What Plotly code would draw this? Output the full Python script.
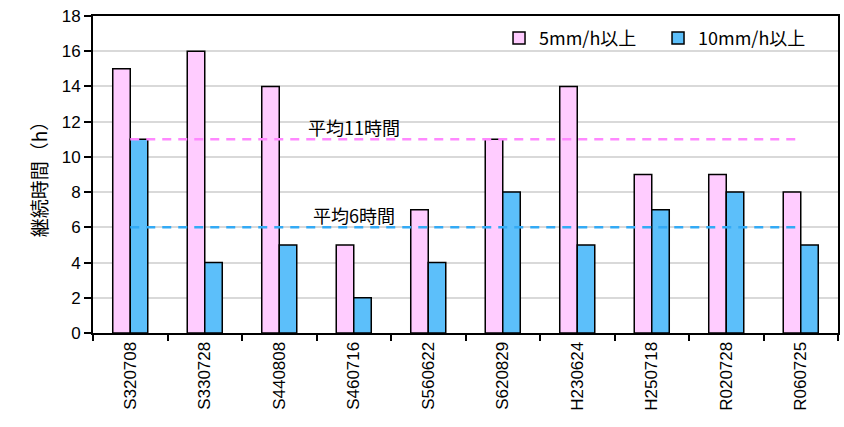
import plotly.graph_objects as go

categories = ["S320708", "S330728", "S440808", "S460716", "S560622",
              "S620829", "H230624", "H250718", "R020728", "R060725"]
hours_5mm = [15, 16, 14, 5, 7, 11, 14, 9, 9, 8]
hours_10mm = [11, 4, 5, 2, 4, 8, 5, 7, 8, 5]
avg_5mm = 11
avg_10mm = 6
y_ticks = [0, 2, 4, 6, 8, 10, 12, 14, 16, 18]

CJK = "Noto Sans CJK JP"
LAT = "Liberation Sans, Arial, sans-serif"

fig = go.Figure()
fig.add_trace(go.Bar(x=categories, y=hours_5mm, name="5mm/h以上",
                     marker=dict(color="#FFCCFF", line=dict(color="black", width=1.5))))
fig.add_trace(go.Bar(x=categories, y=hours_10mm, name="10mm/h以上",
                     marker=dict(color="#5CBFFA", line=dict(color="black", width=1.5))))

fig.add_trace(go.Scatter(x=[categories[0], categories[-1]], y=[avg_5mm, avg_5mm],
                         mode="lines", showlegend=False, hoverinfo="skip",
                         line=dict(color="#FF88FF", width=2.5, dash="9px,7px")))
fig.add_trace(go.Scatter(x=[categories[0], categories[-1]], y=[avg_10mm, avg_10mm],
                         mode="lines", showlegend=False, hoverinfo="skip",
                         line=dict(color="#33AAF5", width=2.5, dash="9px,7px")))

fig.add_annotation(x=3.0, y=avg_5mm, text=f"平均{avg_5mm}時間", showarrow=False,
                   yshift=12, font=dict(family=CJK, size=18, color="black"))
fig.add_annotation(x=3.0, y=avg_10mm, text=f"平均{avg_10mm}時間", showarrow=False,
                   yshift=12, font=dict(family=CJK, size=18, color="black"))

fig.update_layout(
    width=844, height=427,
    margin=dict(l=93, r=6, t=16, b=94, autoexpand=False),
    plot_bgcolor="white", paper_bgcolor="white",
    barmode="group", bargap=0.53, bargroupgap=0,
    showlegend=True,
    legend=dict(orientation="h", x=0.545, y=0.93, xanchor="left", yanchor="middle",
                font=dict(family=CJK, size=18, color="black"),
                entrywidth=114, entrywidthmode="pixels",
                bgcolor="rgba(0,0,0,0)", traceorder="normal"),
    xaxis=dict(type="category", tickson="boundaries", ticks="outside", ticklen=6,
               tickcolor="black", tickwidth=1.5,
               showline=True, linecolor="black", linewidth=2, mirror=True,
               tickangle=-90, tickfont=dict(family=LAT, size=17, color="black"),
               showgrid=False),
    yaxis=dict(range=[0, 18], tickvals=y_ticks, ticks="outside", ticklen=7,
               tickcolor="black", tickwidth=1.5,
               showline=True, linecolor="black", linewidth=2, mirror=True,
               showgrid=True, gridcolor="#D9D9D9", gridwidth=1.5,
               zeroline=False,
               tickfont=dict(family=LAT, size=17, color="black"),
               title=dict(text="継続時間（h）", font=dict(family=CJK, size=19, color="black"),
                          standoff=9)),
)

fig.write_html("out.html")
